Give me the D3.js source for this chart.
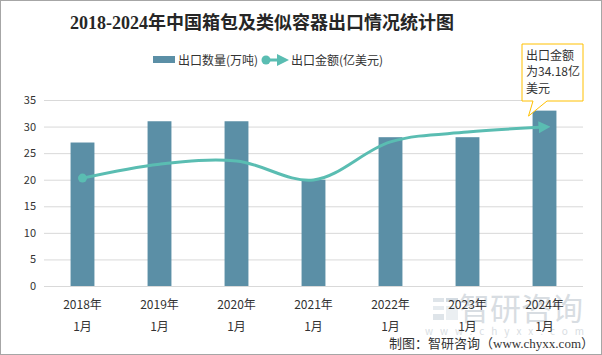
<!DOCTYPE html>
<html><head><meta charset="utf-8">
<script src="https://cdn.jsdelivr.net/npm/d3@7"></script>
<style>body{margin:0;background:#fff}svg{display:block}</style>
</head><body><svg id="c" width="602" height="355"></svg>
<script>
const years = ["2018年","2019年","2020年","2021年","2022年","2023年","2024年"];
const months = ["1月","1月","1月","1月","1月","1月","1月"];
const volume = [27, 31, 31, 20, 28, 28, 33];            // 出口数量(万吨)
const amount = [23.2, 26.2, 26.9, 22.8, 31.0, 33.1, 34.18]; // 出口金额(亿美元)
const yTicks = [0, 5, 10, 15, 20, 25, 30, 35];
const title = "2018-2024年中国箱包及类似容器出口情况统计图";
const legendLabels = ["出口数量(万吨)", "出口金额(亿美元)"];
const calloutLines = ["出口金额", "为34.18亿", "美元"];
const source = "制图：智研咨询（www.chyxx.com）";

const svg = d3.select("#c");
const W = 602, H = 355;
const barColor = "#5b8fa6", lineColor = "#5abdb2";
const sans = "'Noto Sans CJK SC','Microsoft YaHei',sans-serif";
const serif = "'Liberation Serif','Noto Sans CJK SC',serif";

svg.append("rect").attr("x",0.5).attr("y",0.5).attr("width",W-1).attr("height",H-1)
  .attr("fill","#fff").attr("stroke","#a6a6a6");

const x = d3.scaleBand().domain(years).range([44,583]).paddingInner(0.69).paddingOuter(0.345);
const y = d3.scaleLinear().domain([0,35]).range([286,100]);
const y2 = d3.scaleLinear().domain([0,40]).range([286,100]);

// watermark (logo)
const wm = svg.append("g").attr("opacity",0.45).attr("pointer-events","none");
wm.append("rect").attr("x",433).attr("y",298).attr("width",11).attr("height",4).attr("fill","#b8c4cf");
wm.append("rect").attr("x",446).attr("y",298).attr("width",12).attr("height",4).attr("fill","#9fb0c0");
wm.append("rect").attr("x",433).attr("y",306).attr("width",11).attr("height",4).attr("fill","#c9d3dc");
wm.append("rect").attr("x",433).attr("y",314).attr("width",11).attr("height",6).attr("fill","#b8c4cf");
wm.append("rect").attr("x",446).attr("y",306).attr("width",12).attr("height",14).attr("fill","#d4dce3");
wm.append("text").attr("x",521).attr("y",320).attr("text-anchor","middle")
  .attr("font-family",sans).attr("font-size",31).attr("fill","#aab6c0").text("智研咨询");
wm.append("text").attr("x",508).attr("y",335).attr("text-anchor","middle")
  .attr("font-family",sans).attr("font-size",10).attr("letter-spacing","7px").attr("fill","#aab6c0").text("www.chyxx.com");

// grid + y axis
const ga = svg.append("g").attr("transform","translate(44,0)")
  .call(d3.axisLeft(y).tickValues(yTicks).tickSize(-539).tickPadding(8));
ga.select(".domain").remove();
ga.selectAll(".tick line").attr("stroke","#d9d9d9");
ga.selectAll(".tick text").attr("font-family",sans).attr("font-size",11).attr("fill","#333");

// bars
svg.append("g").selectAll("rect").data(volume).join("rect")
  .attr("x",(d,i)=>x(years[i])).attr("width",x.bandwidth())
  .attr("y",d=>y(d)).attr("height",d=>y(0)-y(d)).attr("fill",barColor);

// x labels
const xa = svg.append("g").attr("transform","translate(0,286)")
  .call(d3.axisBottom(x).tickSize(0).tickFormat(""));
xa.select(".domain").remove();
const xl = svg.append("g");
years.forEach((yr,i)=>{
  const cx = x(yr)+x.bandwidth()/2;
  const t = xl.append("text").attr("x",cx).attr("text-anchor","middle")
    .attr("font-family",sans).attr("font-size",12).attr("fill","#333");
  t.append("tspan").attr("x",cx).attr("y",309).text(yr);
  t.append("tspan").attr("x",cx).attr("y",331).text(months[i]);
});

// line
const defs = svg.append("defs");
defs.append("marker").attr("id","arr").attr("viewBox","0 0 10 10").attr("refX",5).attr("refY",5)
  .attr("markerWidth",4).attr("markerHeight",4).attr("orient","auto")
  .append("path").attr("d","M0,0L10,5L0,10Z").attr("fill",lineColor);
const pts = amount.map((v,i)=>[x(years[i])+x.bandwidth()/2, y2(v)]);
const line = d3.line().curve(d3.curveCatmullRom.alpha(0.5));
svg.append("path").attr("d",line(pts)).attr("fill","none").attr("stroke",lineColor)
  .attr("stroke-width",3).attr("marker-end","url(#arr)");
svg.append("circle").attr("cx",pts[0][0]).attr("cy",pts[0][1]).attr("r",4.5).attr("fill",lineColor);

// callout
const last = pts[pts.length-1];
const bx0 = 522, bx1 = 583, by0 = 44, by1 = 101;
svg.append("path")
  .attr("d",`M${bx0},${by0}H${bx1}V${by1}H547L${last[0]-16},${last[1]-11}L533,${by1}H${bx0}Z`)
  .attr("fill","#fff").attr("stroke","#ffc000").attr("stroke-width",1);
calloutLines.forEach((s,i)=>{
  svg.append("text").attr("x",526).attr("y",59.5+i*16.5).attr("font-family",sans)
    .attr("font-size",12).attr("fill","#333").text(s);
});

// title
svg.append("text").attr("x",262).attr("y",29).attr("text-anchor","middle")
  .attr("font-family",serif).attr("font-weight","bold").attr("font-size",18)
  .attr("fill","#262626").text(title);

// legend
svg.append("rect").attr("x",153).attr("y",56).attr("width",22).attr("height",7).attr("fill",barColor);
svg.append("text").attr("x",178).attr("y",64.5).attr("font-family",sans).attr("font-size",12)
  .attr("fill","#333").text(legendLabels[0]);
svg.append("line").attr("x1",265).attr("y1",60).attr("x2",283).attr("y2",60)
  .attr("stroke",lineColor).attr("stroke-width",3).attr("marker-end","url(#arr)");
svg.append("circle").attr("cx",266).attr("cy",60).attr("r",4.5).attr("fill",lineColor);
svg.append("text").attr("x",291).attr("y",64.5).attr("font-family",sans).attr("font-size",12)
  .attr("fill","#333").text(legendLabels[1]);

// source
svg.append("text").attr("x",594).attr("y",348).attr("text-anchor","end")
  .attr("font-family",serif).attr("font-size",13).attr("fill","#333").text(source);
</script></body></html>
